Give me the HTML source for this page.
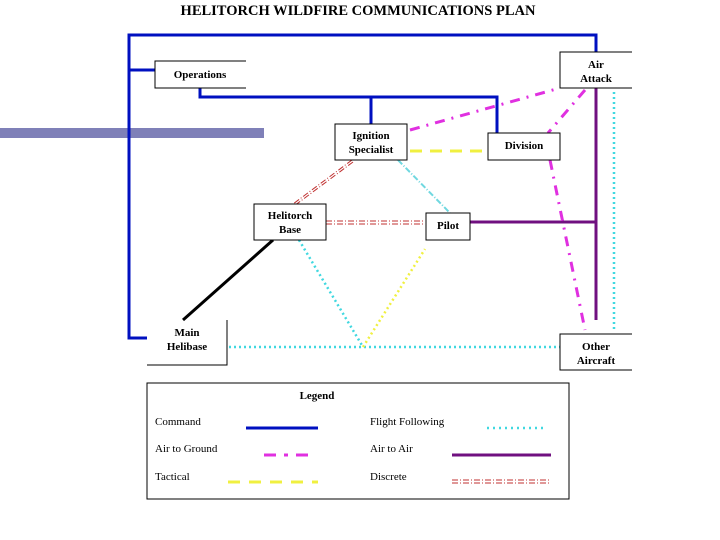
<!DOCTYPE html>
<html><head><meta charset="utf-8"><style>
body{margin:0;background:#fff;width:720px;height:540px;overflow:hidden}
svg{display:block}
text{font-family:"Liberation Serif",serif;font-size:11px;fill:#000}
.b{font-weight:bold}
</style></head><body>
<svg width="720" height="540" viewBox="0 0 720 540">
<text x="358" y="15" text-anchor="middle" class="b" style="font-size:14.5px">HELITORCH WILDFIRE COMMUNICATIONS PLAN</text>
<rect x="0" y="128" width="264" height="10" fill="#7f80b8"/>
<!-- command -->
<g stroke="#0010c0" stroke-width="3" fill="none">
<polyline points="596,52 596,35 129,35 129,338 147,338"/>
<line x1="129" y1="70" x2="155" y2="70"/>
<polyline points="200,88 200,97 497,97 497,133"/>
<line x1="371" y1="97" x2="371" y2="125"/>
</g>
<!-- air to air -->
<g stroke="#701080" stroke-width="3"><line x1="596" y1="88" x2="596" y2="320"/><line x1="470" y1="222" x2="596" y2="222"/></g>
<!-- flight following -->
<g stroke="#40d8e0" stroke-width="2.5" stroke-dasharray="2 3" fill="none">
<line x1="614" y1="92" x2="614" y2="330"/>
<line x1="229" y1="347" x2="560" y2="347"/>
<line x1="299" y1="240" x2="363" y2="347"/>
</g>
<line x1="363" y1="347" x2="425" y2="249" stroke="#f0f040" stroke-width="2.5" stroke-dasharray="2 3"/>
<line x1="398" y1="160" x2="450" y2="213" stroke="#70d8e0" stroke-width="2" stroke-dasharray="6 2 1 2"/>
<!-- discrete -->
<g stroke="#c03030" stroke-width="1" fill="none">
<line x1="352" y1="160" x2="293" y2="204" stroke-dasharray="6 2 1 2"/>
<line x1="353" y1="162" x2="294" y2="206" stroke-dasharray="6 2 1 2"/>
<line x1="326" y1="221" x2="423" y2="221" stroke-dasharray="6 2 1 2"/>
<line x1="326" y1="224" x2="423" y2="224" stroke-dasharray="6 2 1 2"/>
</g>
<!-- air to ground -->
<g stroke="#e030e0" stroke-width="3" stroke-dasharray="10 7 2 7" fill="none">
<line x1="410" y1="130" x2="560" y2="88"/>
<line x1="585" y1="90" x2="548" y2="133"/>
<line x1="550" y1="160" x2="585" y2="330"/>
</g>
<line x1="410" y1="151" x2="488" y2="151" stroke="#f0f040" stroke-width="3" stroke-dasharray="12 8"/>
<line x1="183" y1="320" x2="273" y2="240" stroke="#000" stroke-width="3"/>
<!-- boxes -->
<g fill="#fff" stroke="#000" stroke-width="1">
<path d="M246,61H155V88H246"/>
<path d="M632,52H560V88H632"/>
<rect x="335" y="124" width="72" height="36"/>
<rect x="488" y="133" width="72" height="27"/>
<rect x="254" y="204" width="72" height="36"/>
<rect x="426" y="213" width="44" height="27"/>
<path d="M227,320V365H147" fill="none"/>
<path d="M632,334H560V370H632"/>
</g>
<g class="b" text-anchor="middle">
<text x="200" y="78" class="b">Operations</text>
<text x="596" y="68" class="b">Air</text><text x="596" y="82" class="b">Attack</text>
<text x="371" y="139" class="b">Ignition</text><text x="371" y="153" class="b">Specialist</text>
<text x="524" y="149" class="b">Division</text>
<text x="290" y="219" class="b">Helitorch</text><text x="290" y="233" class="b">Base</text>
<text x="448" y="229" class="b">Pilot</text>
<text x="187" y="336" class="b">Main</text><text x="187" y="350" class="b">Helibase</text>
<text x="596" y="350" class="b">Other</text><text x="596" y="364" class="b">Aircraft</text>
<text x="317" y="399" class="b">Legend</text>
</g>
<rect x="147" y="383" width="422" height="116" fill="none" stroke="#000"/>
<text x="155" y="425">Command</text>
<text x="155" y="452">Air to Ground</text>
<text x="155" y="480">Tactical</text>
<text x="370" y="425">Flight Following</text>
<text x="370" y="452">Air to Air</text>
<text x="370" y="480">Discrete</text>
<line x1="246" y1="428" x2="318" y2="428" stroke="#0010c0" stroke-width="3"/>
<line x1="264" y1="455" x2="310" y2="455" stroke="#e030e0" stroke-width="3" stroke-dasharray="12 8 4 8"/>
<line x1="228" y1="482" x2="318" y2="482" stroke="#f0f040" stroke-width="3" stroke-dasharray="12 9"/>
<line x1="487" y1="428" x2="546" y2="428" stroke="#40d8e0" stroke-width="2.5" stroke-dasharray="2 4"/>
<line x1="452" y1="455" x2="551" y2="455" stroke="#701080" stroke-width="3"/>
<g stroke="#c03030" stroke-width="1" stroke-dasharray="6 2 1 2"><line x1="452" y1="480" x2="551" y2="480"/><line x1="452" y1="483" x2="551" y2="483"/></g>
</svg>
</body></html>
